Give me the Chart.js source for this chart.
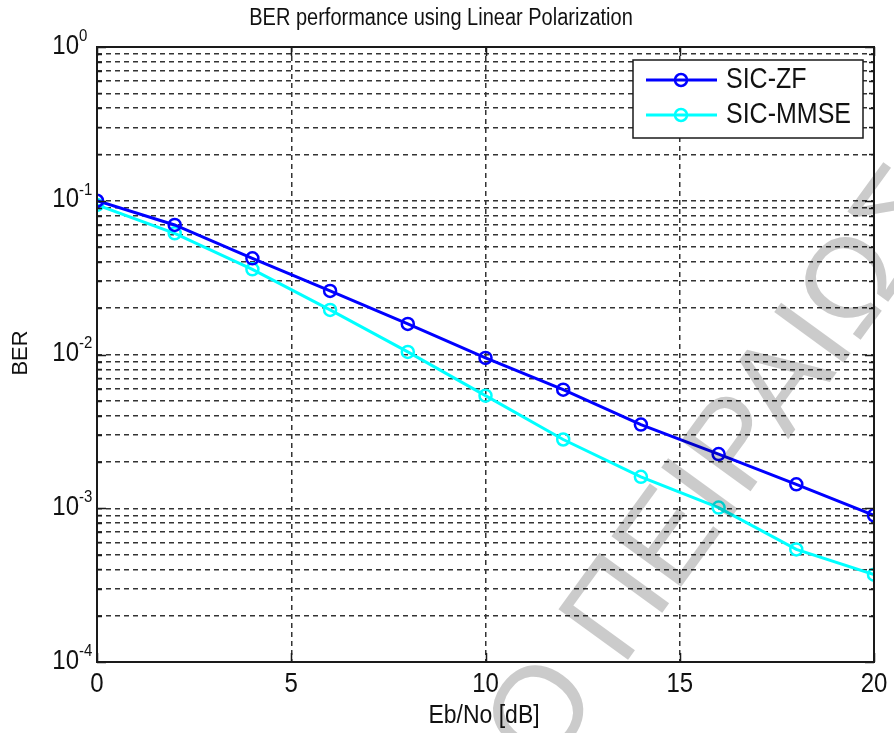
<!DOCTYPE html>
<html>
<head>
<meta charset="utf-8">
<script src="https://cdn.jsdelivr.net/npm/chart.js@4"></script>
<style>
  body { margin: 0; background: #fff; }
  #grafico { display: block; }
</style>
</head>
<body>
<canvas id="grafico" width="894" height="733"></canvas>
<script>
// Eb/No em dB e BER de cada receptor
const ebNo = [0, 2, 4, 6, 8, 10, 12, 14, 16, 18, 20];
const berZF = [0.100, 0.0696, 0.0422, 0.0259, 0.0158, 0.0095, 0.0059, 0.0035, 0.00225, 0.00143, 0.0009];
const berMMSE = [0.094, 0.0614, 0.0358, 0.0195, 0.0104, 0.0054, 0.0028, 0.0016, 0.00101, 0.00054, 0.00037];

const xTicks = [0, 5, 10, 15, 20];
const yDecades = [-4, -3, -2, -1, 0];

// ticks do eixo log: 1..9 x 10^d em cada decada
const yTickValues = [];
yDecades.forEach((d) => {
  const passos = d === 0 ? [1] : [1, 2, 3, 4, 5, 6, 7, 8, 9];
  passos.forEach((m) => yTickValues.push(Number((m * Math.pow(10, d)).toPrecision(3))));
});
const yMajor = yDecades.map((d) => Math.pow(10, d));

const FONTE = '"Liberation Sans", Arial, sans-serif';
const ESTICA = 1.15;

function texto(ctx, str, x, y, size, align) {
  ctx.save();
  ctx.translate(x, y);
  ctx.scale(1, ESTICA);
  ctx.font = size + "px " + FONTE;
  ctx.fillStyle = "#111";
  ctx.textAlign = align;
  ctx.textBaseline = "middle";
  ctx.fillText(str, 0, 0);
  ctx.restore();
}

function ehMajor(v) {
  return yMajor.some((m) => Math.abs(m - v) < m * 1e-6);
}

// fundo, marca d'agua, moldura, ticks internos, textos e legenda
const desenho = {
  id: "desenho",
  beforeDraw(chart) {
    const ctx = chart.ctx;
    ctx.save();
    ctx.fillStyle = "#fff";
    ctx.fillRect(0, 0, chart.width, chart.height);
    ctx.restore();
  },
  afterDraw(chart) {
    const ctx = chart.ctx;
    const a = chart.chartArea;
    const x = chart.scales.x;
    const y = chart.scales.y;

    // marca d'agua
    ctx.save();
    ctx.globalCompositeOperation = "multiply";
    ctx.fillStyle = "#cbcbcb";
    ctx.font = "125px " + FONTE;
    ctx.translate(622, 668);
    ctx.rotate((-54 * Math.PI) / 180);
    ctx.textBaseline = "alphabetic";
    ctx.textAlign = "right";
    ctx.fillText("ΠΑΝΕΠΙΣΤΗΜΙΟ ", 0, 0);
    ctx.textAlign = "left";
    ctx.fillText("ΠΕΙΡΑΙΩΣ", 0, 0);
    ctx.restore();

    // moldura
    ctx.save();
    ctx.strokeStyle = "#1a1a1a";
    ctx.lineWidth = 2;
    ctx.strokeRect(a.left, a.top, a.right - a.left, a.bottom - a.top);

    // ticks para dentro nos quatro lados
    ctx.lineWidth = 1.5;
    ctx.beginPath();
    yTickValues.forEach((v) => {
      const py = Math.round(y.getPixelForValue(v)) + 0.5;
      const len = ehMajor(v) ? 9 : 5;
      ctx.moveTo(a.left, py);
      ctx.lineTo(a.left + len, py);
      ctx.moveTo(a.right, py);
      ctx.lineTo(a.right - len, py);
    });
    xTicks.forEach((v) => {
      const px = Math.round(x.getPixelForValue(v)) + 0.5;
      ctx.moveTo(px, a.bottom);
      ctx.lineTo(px, a.bottom - 9);
      ctx.moveTo(px, a.top);
      ctx.lineTo(px, a.top + 9);
    });
    ctx.stroke();
    ctx.restore();

    // rotulos dos ticks
    xTicks.forEach((v) => texto(ctx, String(v), x.getPixelForValue(v), 684, 24, "center"));
    yDecades.forEach((d) => {
      const py = y.getPixelForValue(Math.pow(10, d));
      texto(ctx, "10", 79, py - 1, 24, "right");
      texto(ctx, String(d), 79, py - 11, 15, "left");
    });

    // titulo e eixos
    texto(ctx, "BER performance using Linear Polarization", 441, 19, 20, "center");
    texto(ctx, "Eb/No [dB]", 484, 716, 23, "center");
    ctx.save();
    ctx.translate(21, 353);
    ctx.rotate(-Math.PI / 2);
    ctx.font = "22px " + FONTE;
    ctx.fillStyle = "#111";
    ctx.textAlign = "center";
    ctx.textBaseline = "middle";
    ctx.fillText("BER", 0, 0);
    ctx.restore();

    // legenda
    ctx.save();
    ctx.fillStyle = "#fff";
    ctx.strokeStyle = "#1a1a1a";
    ctx.lineWidth = 1.5;
    ctx.fillRect(633, 60, 230, 78);
    ctx.strokeRect(633, 60, 230, 78);
    chart.data.datasets.forEach((ds, i) => {
      const ly = 80 + i * 35;
      ctx.strokeStyle = ds.borderColor;
      ctx.lineWidth = 3;
      ctx.beginPath();
      ctx.moveTo(646, ly);
      ctx.lineTo(717, ly);
      ctx.stroke();
      ctx.lineWidth = 2.5;
      ctx.beginPath();
      ctx.arc(681, ly, 6, 0, Math.PI * 2);
      ctx.stroke();
      texto(ctx, ds.label, 726, ly, 25, "left");
    });
    ctx.restore();
  },
};

function grafico() {
  const ctx = document.getElementById("grafico");
  new Chart(ctx, {
    type: "line",
    data: {
      datasets: [
        {
          label: "SIC-ZF",
          data: ebNo.map((v, i) => ({ x: v, y: berZF[i] })),
          borderColor: "#0000ff",
          borderWidth: 3,
          pointStyle: "circle",
          pointRadius: 6,
          pointBorderWidth: 2.5,
          pointBorderColor: "#0000ff",
          pointBackgroundColor: "rgba(0,0,0,0)",
          tension: 0,
        },
        {
          label: "SIC-MMSE",
          data: ebNo.map((v, i) => ({ x: v, y: berMMSE[i] })),
          borderColor: "#00ffff",
          borderWidth: 3,
          pointStyle: "circle",
          pointRadius: 6,
          pointBorderWidth: 2.5,
          pointBorderColor: "#00ffff",
          pointBackgroundColor: "rgba(0,0,0,0)",
          tension: 0,
        },
      ],
    },
    options: {
      responsive: false,
      animation: false,
      devicePixelRatio: 1,
      layout: { padding: { left: 97, top: 47, right: 20, bottom: 71 } },
      plugins: { legend: { display: false }, title: { display: false }, tooltip: { enabled: false } },
      scales: {
        x: {
          type: "linear",
          min: 0,
          max: 20,
          ticks: { display: false, stepSize: 5 },
          grid: { color: "#333", lineWidth: 1.5, drawTicks: false },
          border: { display: false, dash: [5, 4] },
        },
        y: {
          type: "logarithmic",
          min: 1e-4,
          max: 1,
          afterBuildTicks: (axis) => {
            axis.ticks = yTickValues.map((v) => ({ value: v }));
          },
          ticks: { display: false },
          grid: { color: "#333", lineWidth: 1.5, drawTicks: false },
          border: { display: false, dash: [5, 4] },
        },
      },
    },
    plugins: [desenho],
  });
}

grafico();
</script>
</body>
</html>
